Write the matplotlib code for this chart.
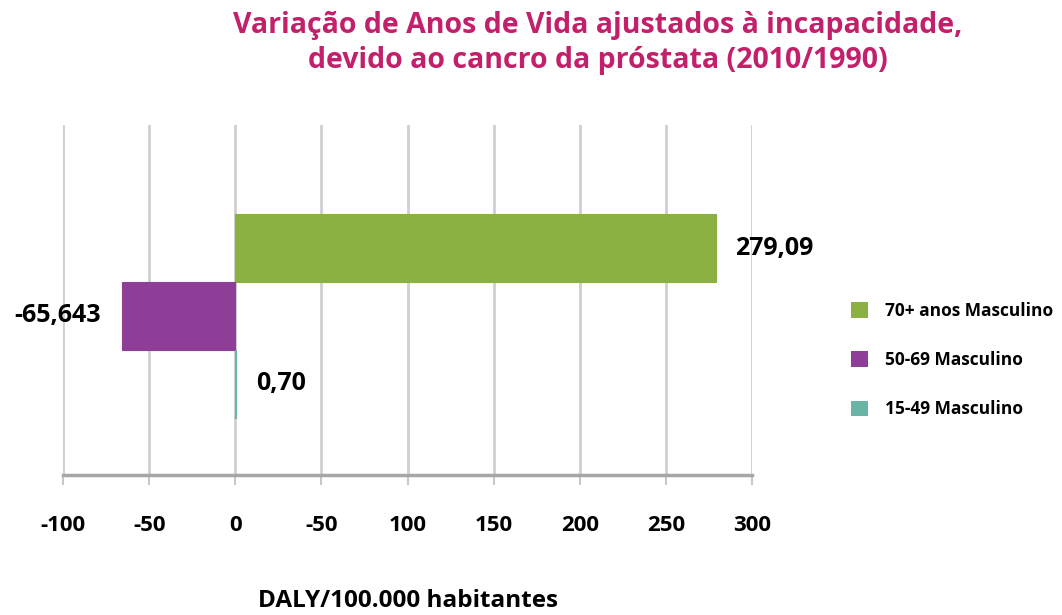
import matplotlib
matplotlib.use("Agg")
import matplotlib.pyplot as plt
from matplotlib.patches import Patch

plt.rcParams['font.family'] = ['Open Sans', 'DejaVu Sans']

# DALY change per 100.000, by age group (men)
series = ['70+ anos Masculino', '50-69 Masculino', '15-49 Masculino']
values = [279.09, -65.643, 0.70]
value_labels = ['279,09', '-65,643', '0,70']
colors = ['#8AB142', '#8E3E96', '#68B5A5']

tick_values = [-100, -50, 0, 50, 100, 150, 200, 250, 300]
tick_labels = ['-100', '-50', '0', '-50', '100', '150', '200', '250', '300']

fig = plt.figure(figsize=(10.62, 6.15), dpi=100)
ax = fig.add_axes([63 / 1062, 1 - 475 / 615, (752 - 63) / 1062, 350 / 615])

ypos = [2, 1, 0]
ax.barh(ypos, values, height=1.0, color=colors, edgecolor=colors, linewidth=0.8, zorder=3)

for y, v, lab in zip(ypos, values, value_labels):
    if v >= 0:
        ax.annotate(lab, (v, y), xytext=(14, 0), textcoords='offset points',
                    ha='left', va='center', fontsize=18, fontweight='bold')
    else:
        ax.annotate(lab, (v, y), xytext=(-15, 0), textcoords='offset points',
                    ha='right', va='center', fontsize=18, fontweight='bold')

ax.set_xlim(-100, 300)
ax.set_ylim(-1.34, 3.81)
ax.set_yticks([])
ax.set_xticks(tick_values)
ax.set_xticklabels(tick_labels, fontsize=16, fontweight='bold')
ax.tick_params(axis='x', length=7, width=1.5, color='#C8C8C8', pad=22)

ax.grid(axis='x', color='#CFCFCF', linewidth=2, zorder=0)
for side in ['top', 'right', 'left']:
    ax.spines[side].set_visible(False)
ax.spines['bottom'].set_color('#A6A6A6')
ax.spines['bottom'].set_linewidth(2.5)

ax.set_xlabel('DALY/100.000 habitantes', fontsize=17.5, fontweight='bold', labelpad=38)

handles = [Patch(facecolor=c, label=s) for c, s in zip(colors, series)]
fig.legend(handles=handles, loc='center left', bbox_to_anchor=(835 / 1062, 1 - 360 / 615),
           frameon=False, prop={'weight': 'bold', 'size': 12.5},
           handlelength=1.0, handleheight=1.0, labelspacing=1.8, handletextpad=1.0)

fig.text(598 / 1062, 1 - 43 / 615,
         'Variação de Anos de Vida ajustados à incapacidade,\ndevido ao cancro da próstata (2010/1990)',
         ha='center', va='center', fontsize=20.5, fontweight='bold', color='#C2206B',
         linespacing=1.3)

fig.savefig('out.png', dpi=100)
